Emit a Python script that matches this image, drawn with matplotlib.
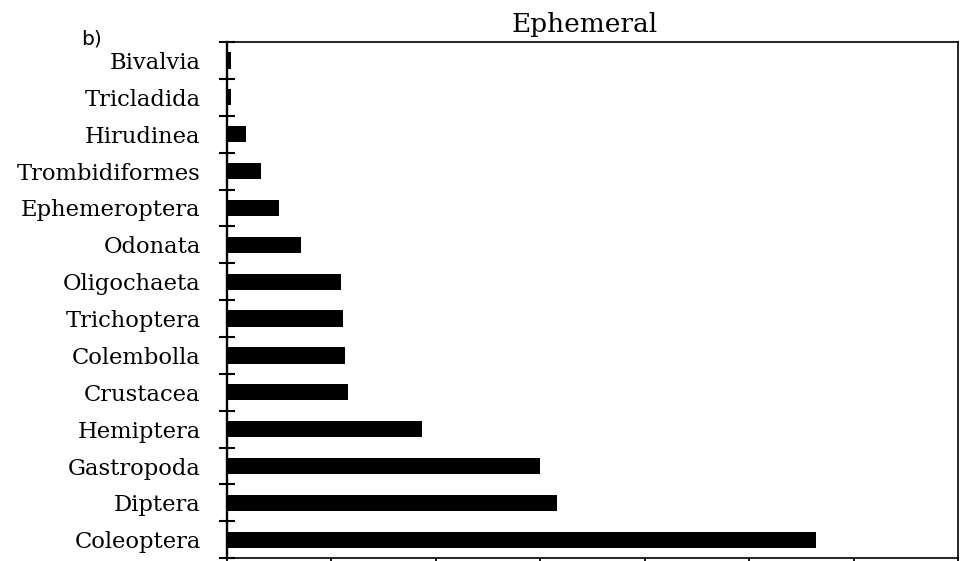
import matplotlib.pyplot as plt

taxa = ['Coleoptera', 'Diptera', 'Gastropoda', 'Hemiptera', 'Crustacea',
        'Colembolla', 'Trichoptera', 'Oligochaeta', 'Odonata',
        'Ephemeroptera', 'Trombidiformes', 'Hirudinea', 'Tricladida',
        'Bivalvia']
abundance = [28.2, 15.8, 15.0, 9.35, 5.8, 5.65, 5.57, 5.45, 3.55,
             2.5, 1.63, 0.92, 0.2, 0.2]
x_ticks = [0, 5, 10, 15, 20, 25, 30, 35]

fig = plt.figure(figsize=(9.6, 5.61), dpi=100)
ax = fig.add_axes([0.2365, 0.005, 0.7615, 0.92])

pos = range(len(taxa))
ax.barh(pos, abundance, height=0.44, color='black')

ax.set_xlim(0, 35)
ax.set_ylim(-0.5, len(taxa) - 0.5)
ax.set_xticks(x_ticks)
ax.set_xticklabels([])
ax.set_yticks(pos)
ax.set_yticklabels(taxa, fontfamily='DejaVu Serif', fontsize=16.3)
# category boundaries get the crossing tick marks
ax.set_yticks([p - 0.5 for p in pos] + [len(taxa) - 0.5], minor=True)

ax.tick_params(axis='y', which='major', length=0, pad=19)
ax.tick_params(axis='y', which='minor', direction='inout', length=12, width=1.5)
ax.tick_params(axis='x', direction='out', length=6, width=1.3)

for s in ax.spines.values():
    s.set_linewidth(1.2)
ax.spines['left'].set_linewidth(1.7)

ax.set_title('Ephemeral', fontfamily='DejaVu Serif', fontsize=19, pad=7, x=0.489)
fig.text(0.084, 0.92, 'b)', fontfamily='DejaVu Sans', fontsize=14.5,
         va='baseline')

fig.savefig('out.png', dpi=100)
